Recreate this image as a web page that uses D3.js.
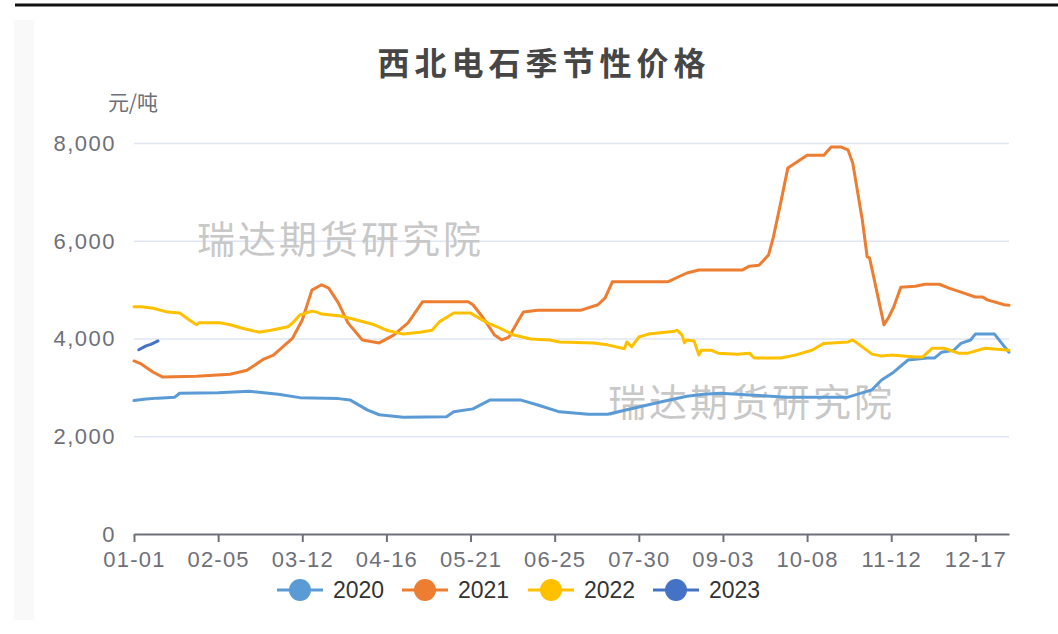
<!DOCTYPE html>
<html lang="zh">
<head>
<meta charset="UTF-8">
<title>西北电石季节性价格</title>
<script src="https://d3js.org/d3.v7.min.js"></script>
<style>
  body { margin: 0; background: #fff; }
  svg { display: block; font-family: "Noto Sans CJK SC", "Noto Sans", sans-serif; }
</style>
</head>
<body>
<svg id="chart" width="1058" height="634"></svg>
<script>
// x positions are day-of-year (0 = 01-01)
const tickDays = [0, 35, 70, 105, 140, 175, 210, 245, 280, 315, 350];
const tickLabels = ["01-01", "02-05", "03-12", "04-16", "05-21", "06-25", "07-30", "09-03", "10-08", "11-12", "12-17"];
const yTicks = [0, 2000, 4000, 6000, 8000];

const years = ["2020", "2021", "2022", "2023"];
const colors = ["#5b9bd5", "#ed7d31", "#ffc000", "#4472c4"];

const s2020 = [[0,2730],[5,2760],[10,2780],[17,2800],[19,2880],[35,2890],[48,2920],[56,2880],[60,2860],[69,2790],[85,2770],[90,2740],[97,2540],[102,2440],[112,2390],[130,2400],[133,2500],[141,2560],[148,2740],[161,2740],[168,2640],[177,2500],[189,2450],[197,2450],[210,2600],[219,2700],[230,2820],[237,2860],[244,2880],[251,2860],[258,2840],[272,2800],[297,2800],[307,2950],[311,3150],[316,3310],[322,3560],[330,3600],[333,3600],[336,3720],[341,3760],[344,3900],[348,3970],[350,4090],[358,4090],[361,3900],[364,3720]];

const s2021 = [[0,3540],[3,3480],[8,3310],[12,3210],[26,3230],[40,3270],[47,3350],[54,3580],[58,3660],[66,4010],[70,4380],[74,4990],[78,5100],[81,5030],[85,4730],[89,4320],[95,3970],[102,3910],[108,4070],[114,4320],[120,4750],[139,4750],[141,4690],[145,4440],[150,4070],[153,3970],[156,4030],[160,4380],[162,4540],[168,4580],[186,4580],[193,4690],[196,4830],[199,5160],[222,5160],[230,5340],[235,5400],[253,5400],[256,5480],[260,5500],[264,5710],[266,6080],[269,6770],[272,7490],[280,7750],[287,7750],[290,7920],[294,7920],[297,7860],[299,7590],[303,6420],[305,5670],[306,5650],[312,4280],[314,4440],[316,4640],[319,5050],[325,5070],[329,5110],[335,5110],[339,5030],[344,4950],[350,4850],[353,4850],[355,4790],[362,4690],[364,4680]];

const s2022 = [[0,4650],[3,4650],[8,4620],[14,4540],[19,4520],[23,4380],[26,4280],[27,4320],[36,4320],[40,4280],[45,4210],[52,4130],[57,4170],[64,4240],[66,4320],[69,4480],[74,4560],[76,4540],[78,4500],[86,4460],[91,4400],[100,4280],[105,4170],[112,4090],[119,4130],[124,4170],[127,4340],[133,4520],[140,4520],[147,4320],[151,4240],[158,4070],[165,3990],[173,3970],[177,3930],[191,3910],[197,3870],[204,3790],[205,3930],[207,3830],[210,4030],[214,4090],[225,4150],[226,4170],[228,4070],[229,3910],[230,3970],[233,3950],[235,3660],[236,3760],[240,3760],[243,3700],[251,3680],[256,3700],[258,3600],[269,3600],[275,3660],[282,3760],[287,3900],[297,3930],[299,3970],[301,3900],[307,3680],[311,3640],[315,3660],[325,3620],[328,3620],[332,3800],[337,3800],[343,3700],[347,3700],[354,3800],[364,3760]];

const s2023 = [[2,3770],[5,3850],[7,3880],[10,3950]];

const seriesData = [s2020, s2021, s2022, s2023];

const svg = d3.select("#chart");
const numFont = "'Liberation Sans', Arial, sans-serif";

// faint page panel + top rule
svg.append("rect").attr("x", 14).attr("y", 20).attr("width", 20).attr("height", 600).attr("fill", "#f9f9f9");
svg.append("line").attr("x1", 15).attr("x2", 1058).attr("y1", 5).attr("y2", 5)
  .attr("stroke", "#111").attr("stroke-width", 3);

const x = d3.scaleLinear().domain([0, 364]).range([134, 1009]);
const y = d3.scaleLinear().domain([0, 8000]).range([534, 143]);

// gridlines
svg.append("g")
  .attr("transform", "translate(134,0)")
  .call(d3.axisLeft(y).tickValues(yTicks.slice(1)).tickSize(-875).tickFormat(""))
  .call(g => g.select(".domain").remove())
  .call(g => g.selectAll("line").attr("stroke", "#e0e6f1").attr("stroke-width", 1.5));

// y labels
svg.append("g").selectAll("text").data(yTicks).join("text")
  .attr("x", 116).attr("y", d => y(d)).attr("dy", "0.36em")
  .attr("text-anchor", "end").attr("fill", "#6e7079")
  .style("font-family", numFont).style("font-size", "22px").style("letter-spacing", "1.5px")
  .text(d => d3.format(",")(d));

svg.append("text").attr("x", 133).attr("y", 110).attr("text-anchor", "middle")
  .attr("fill", "#6e7079").style("font-size", "21px").text("元/吨");

// x axis
const xAxis = svg.append("g")
  .attr("transform", "translate(0,534)")
  .call(d3.axisBottom(x).tickValues(tickDays).tickSize(8).tickSizeOuter(0)
    .tickFormat((d, i) => tickLabels[i]));
xAxis.select(".domain").attr("stroke", "#6e7079").attr("stroke-width", 2);
xAxis.selectAll(".tick line").attr("stroke", "#6e7079").attr("stroke-width", 2);
xAxis.selectAll(".tick text").attr("fill", "#6e7079").attr("y", 17).attr("dy", "0.71em")
  .style("font-family", numFont).style("font-size", "22px").style("letter-spacing", "1.2px");

// watermarks
[[197, 253], [608, 416]].forEach(p => {
  svg.append("text").attr("x", p[0]).attr("y", p[1])
    .attr("fill", "#c8c8c8").style("font-size", "38px").style("letter-spacing", "3px")
    .text("瑞达期货研究院");
});

// lines
const line = d3.line().x(d => x(d[0])).y(d => y(d[1]));
seriesData.forEach((s, i) => {
  svg.append("path").datum(s)
    .attr("fill", "none").attr("stroke", colors[i]).attr("stroke-width", 3)
    .attr("stroke-linejoin", "round").attr("stroke-linecap", "round")
    .attr("d", line);
});

// title
svg.append("text").attr("x", 544).attr("y", 75).attr("text-anchor", "middle")
  .attr("fill", "#464646").style("font-size", "32px").style("font-weight", "bold")
  .style("letter-spacing", "5px").text("西北电石季节性价格");

// legend
const legendX = [277, 402, 528, 653];
const legend = svg.append("g").selectAll("g").data(years).join("g")
  .attr("transform", (d, i) => "translate(" + legendX[i] + ",590)");
legend.append("line").attr("x1", 0).attr("x2", 46)
  .attr("stroke", (d, i) => colors[i]).attr("stroke-width", 3);
legend.append("circle").attr("cx", 23).attr("r", 11).attr("fill", (d, i) => colors[i]);
legend.append("text").attr("x", 56).attr("dy", "0.36em").attr("fill", "#333")
  .style("font-family", numFont).style("font-size", "23px")
  .text(d => d);
</script>
</body>
</html>
